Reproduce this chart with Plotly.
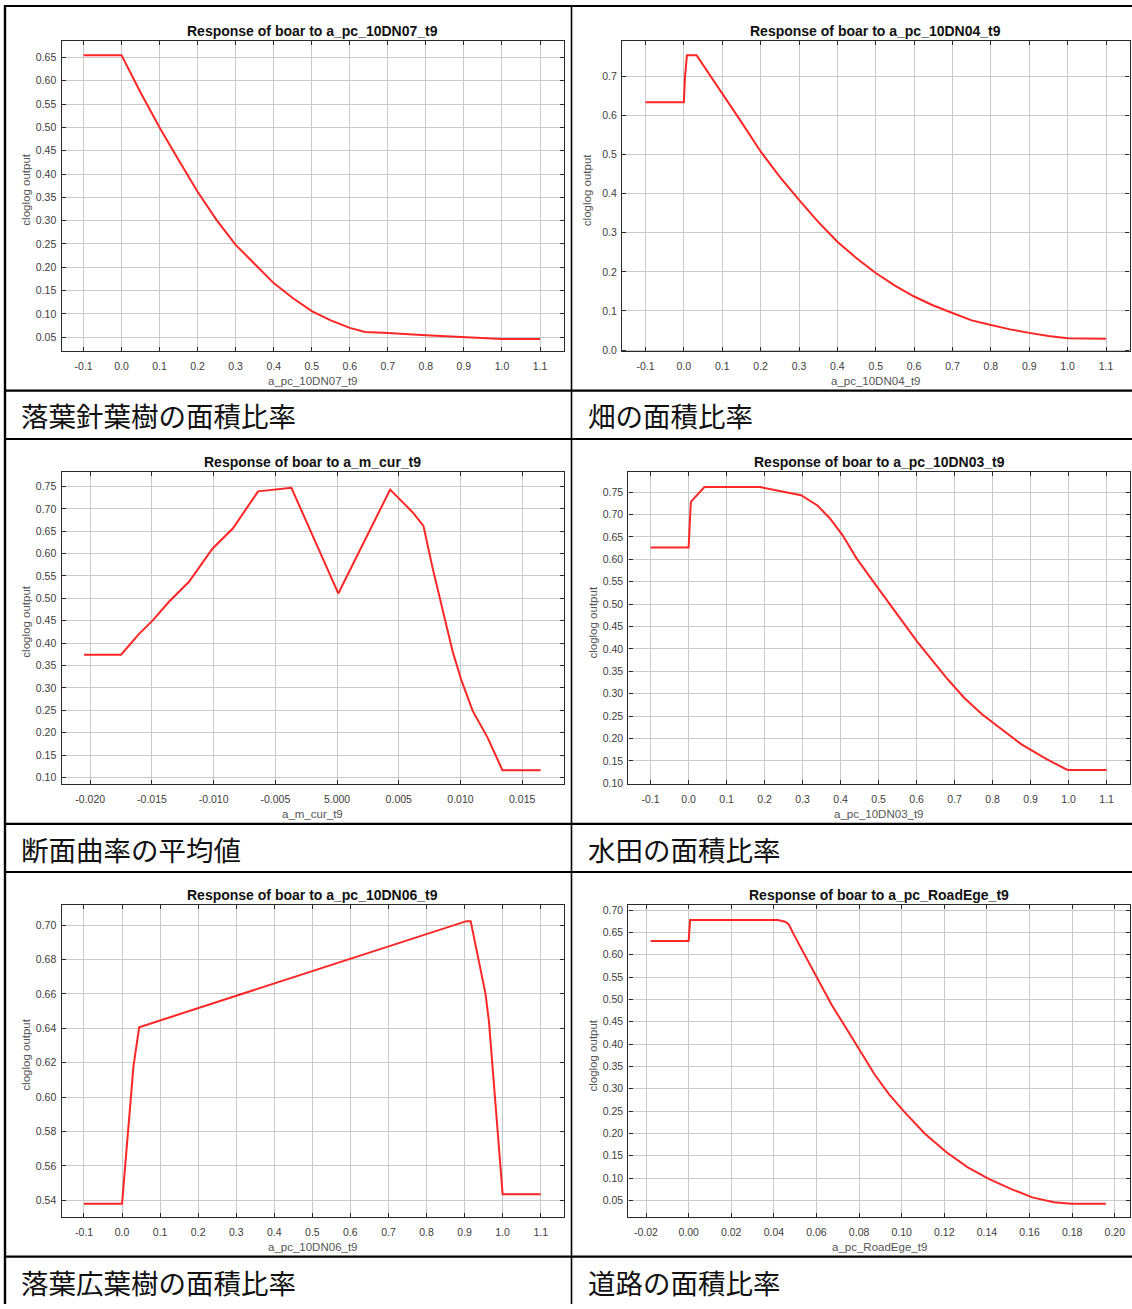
import plotly.graph_objects as go

W, H = 1132, 1309

# ---- response curves (x = predictor value, y = cloglog output) ----
x_10DN07 = [-0.1, 0.0, 0.05, 0.1, 0.15, 0.2, 0.25, 0.3, 0.35, 0.4, 0.45, 0.5,
            0.55, 0.6, 0.64, 0.7, 0.8, 0.9, 1.0, 1.1]
y_10DN07 = [0.655, 0.655, 0.575, 0.500, 0.430, 0.362, 0.301, 0.248, 0.207, 0.166,
            0.134, 0.106, 0.086, 0.070, 0.061, 0.059, 0.054, 0.050, 0.046, 0.046]

x_10DN04 = [-0.1, 0.0, 0.003, 0.008, 0.033, 0.1, 0.15, 0.2, 0.25, 0.3, 0.35, 0.4,
            0.45, 0.5, 0.55, 0.6, 0.65, 0.7, 0.75, 0.8, 0.85, 0.9, 0.95, 1.0, 1.1]
y_10DN04 = [0.634, 0.634, 0.700, 0.754, 0.754, 0.657, 0.583, 0.508, 0.443, 0.384,
            0.328, 0.277, 0.235, 0.197, 0.165, 0.137, 0.114, 0.095, 0.076, 0.064,
            0.053, 0.044, 0.036, 0.030, 0.029]

x_m_cur = [-0.0205, -0.0175, -0.0161, -0.0149, -0.0136, -0.0120, -0.0101, -0.00845,
           -0.0064, -0.0037, 0.0001, 0.0043, 0.0061, 0.0070, 0.00775, 0.00834,
           0.00937, 0.0101, 0.0110, 0.0122, 0.0128, 0.0134, 0.0165]
y_m_cur = [0.374, 0.374, 0.419, 0.452, 0.493, 0.537, 0.611, 0.656, 0.739, 0.747,
           0.511, 0.743, 0.693, 0.662, 0.567, 0.500, 0.381, 0.315, 0.248, 0.189,
           0.152, 0.116, 0.116]

x_10DN03 = [-0.1, 0.0, 0.006, 0.013, 0.0415, 0.188, 0.216, 0.244, 0.296, 0.339,
            0.372, 0.405, 0.442, 0.499, 0.556, 0.601, 0.678, 0.725, 0.772, 0.829,
            0.876, 0.942, 0.997, 1.1]
y_10DN03 = [0.626, 0.626, 0.728, 0.735, 0.761, 0.761, 0.756, 0.751, 0.743, 0.720,
            0.691, 0.654, 0.602, 0.535, 0.469, 0.417, 0.336, 0.291, 0.254, 0.217,
            0.187, 0.154, 0.130, 0.130]

x_10DN06 = [-0.1, 0.0, 0.03, 0.045, 0.905, 0.916, 0.955, 0.964, 1.0, 1.1]
y_10DN06 = [0.538, 0.538, 0.618, 0.6406, 0.7023, 0.7023, 0.660, 0.644, 0.5435, 0.5435]

x_RoadEge = [-0.0178, 0.0, 0.0007, 0.0419, 0.0453, 0.047, 0.0495, 0.0537, 0.0604,
             0.0671, 0.0739, 0.0806, 0.0873, 0.094, 0.1008, 0.1109, 0.121, 0.131,
             0.1411, 0.1512, 0.1613, 0.1714, 0.1795, 0.1958]
y_RoadEge = [0.631, 0.631, 0.678, 0.678, 0.674, 0.668, 0.644, 0.607, 0.548, 0.488,
             0.436, 0.384, 0.332, 0.288, 0.2505, 0.1995, 0.158, 0.124, 0.098, 0.076,
             0.057, 0.046, 0.0425, 0.0425]

# ---- tick values / labels ----
frac_ticks = [-0.1, 0.0, 0.1, 0.2, 0.3, 0.4, 0.5, 0.6, 0.7, 0.8, 0.9, 1.0, 1.1]
frac_labels = ["-0.1", "0.0", "0.1", "0.2", "0.3", "0.4", "0.5", "0.6", "0.7",
               "0.8", "0.9", "1.0", "1.1"]
cur_ticks = [-0.020, -0.015, -0.010, -0.005, 0.0, 0.005, 0.010, 0.015]
cur_labels = ["-0.020", "-0.015", "-0.010", "-0.005", "5.000", "0.005", "0.010", "0.015"]
road_ticks = [-0.02, 0.0, 0.02, 0.04, 0.06, 0.08, 0.10, 0.12, 0.14, 0.16, 0.18, 0.20]
road_labels = ["-0.02", "0.00", "0.02", "0.04", "0.06", "0.08", "0.10", "0.12",
               "0.14", "0.16", "0.18", "0.20"]

y05_ticks = [0.05, 0.10, 0.15, 0.20, 0.25, 0.30, 0.35, 0.40, 0.45, 0.50, 0.55, 0.60, 0.65]
y05_labels = ["0.05", "0.10", "0.15", "0.20", "0.25", "0.30", "0.35", "0.40", "0.45",
              "0.50", "0.55", "0.60", "0.65"]
y1_ticks = [0.0, 0.1, 0.2, 0.3, 0.4, 0.5, 0.6, 0.7]
y1_labels = ["0.0", "0.1", "0.2", "0.3", "0.4", "0.5", "0.6", "0.7"]
y10_ticks = [0.10, 0.15, 0.20, 0.25, 0.30, 0.35, 0.40, 0.45, 0.50, 0.55, 0.60, 0.65,
             0.70, 0.75]
y10_labels = ["0.10", "0.15", "0.20", "0.25", "0.30", "0.35", "0.40", "0.45", "0.50",
              "0.55", "0.60", "0.65", "0.70", "0.75"]
y02_ticks = [0.54, 0.56, 0.58, 0.60, 0.62, 0.64, 0.66, 0.68, 0.70]
y02_labels = ["0.54", "0.56", "0.58", "0.60", "0.62", "0.64", "0.66", "0.68", "0.70"]
y05r_ticks = y05_ticks + [0.70]
y05r_labels = y05_labels + ["0.70"]

variables = ["a_pc_10DN07_t9", "a_pc_10DN04_t9", "a_m_cur_t9",
             "a_pc_10DN03_t9", "a_pc_10DN06_t9", "a_pc_RoadEge_t9"]
captions = ["落葉針葉樹の面積比率", "畑の面積比率", "断面曲率の平均値",
            "水田の面積比率", "落葉広葉樹の面積比率", "道路の面積比率"]


def fx(p):
    return p / W


def fy(p):
    return 1 - p / H


# plot boxes in pixels (left, top, right, bottom) and axis ranges
panels = [
    dict(x=x_10DN07, y=y_10DN07, box=(61.5, 40, 564, 352),
         xr=[-0.1578, 1.1631], yr=[0.0195, 0.6857],
         xt=frac_ticks, xl=frac_labels, yt=y05_ticks, yl=y05_labels, cap_x=19),
    dict(x=x_10DN04, y=y_10DN04, box=(622, 40, 1129.5, 352),
         xr=[-0.1612, 1.1612], yr=[-0.0033, 0.7909],
         xt=frac_ticks, xl=frac_labels, yt=y1_ticks, yl=y1_labels, cap_x=586),
    dict(x=x_m_cur, y=y_m_cur, box=(61.5, 473.3, 564, 786.7),
         xr=[-0.02233, 0.01839], yr=[0.0851, 0.782],
         xt=cur_ticks, xl=cur_labels, yt=y10_ticks, yl=y10_labels, cap_x=19),
    dict(x=x_10DN03, y=y_10DN03, box=(628.4, 473.3, 1129.8, 786.7),
         xr=[-0.1584, 1.161], yr=[0.0984, 0.7944],
         xt=frac_ticks, xl=frac_labels, yt=y10_ticks, yl=y10_labels, cap_x=586),
    dict(x=x_10DN06, y=y_10DN06, box=(61.5, 908.3, 564, 1221.7),
         xr=[-0.1591, 1.1612], yr=[0.5302, 0.7116],
         xt=frac_ticks, xl=frac_labels, yt=y02_ticks, yl=y02_labels, cap_x=19),
    dict(x=x_RoadEge, y=y_RoadEge, box=(628.4, 908.3, 1129.8, 1221.7),
         xr=[-0.02826, 0.20704], yr=[0.0128, 0.7111],
         xt=road_ticks, xl=road_labels, yt=y05r_ticks, yl=y05r_labels, cap_x=586),
]
caption_y = [416, 416, 851.5, 851.5, 1287, 1287]

TICK_FONT = dict(family="Liberation Sans, Arial, sans-serif", size=10.5, color="#3c3c3c")
fig = go.Figure()
layout = dict(width=W, height=H, autosize=False,
              margin=dict(l=0, r=0, t=0, b=0),
              paper_bgcolor="white", plot_bgcolor="white", showlegend=False)
annotations = []

for i, p in enumerate(panels):
    n = "" if i == 0 else str(i + 1)
    l, t, r, b = p["box"]
    fig.add_trace(go.Scatter(x=p["x"], y=p["y"], mode="lines",
                             line=dict(color="#ff2626", width=2),
                             xaxis="x" + n, yaxis="y" + n, hoverinfo="skip"))
    common = dict(showline=True, linecolor="#2a2a2a", linewidth=1.3, mirror="ticks",
                  ticks="inside", ticklen=4, tickcolor="#2a2a2a", tickwidth=1.2,
                  showgrid=True, gridcolor="#c9c9c9", gridwidth=1,
                  zeroline=False, tickfont=TICK_FONT, tickmode="array")
    layout["xaxis" + n] = dict(common, domain=[fx(l), fx(r)], range=p["xr"],
                               tickvals=p["xt"], ticktext=p["xl"], anchor="y" + n,
                               ticklabelstandoff=5)
    layout["yaxis" + n] = dict(common, domain=[fy(b), fy(t)], range=p["yr"],
                               tickvals=p["yt"], ticktext=p["yl"], anchor="x" + n,
                               ticklabelstandoff=2)
    cx = (l + r) / 2
    # chart title
    annotations.append(dict(text="<b>Response of boar to %s</b>" % variables[i],
                            x=fx(cx), y=fy(t - 10), xref="paper", yref="paper",
                            showarrow=False, xanchor="center", yanchor="middle",
                            font=dict(family="Liberation Sans, Arial, sans-serif",
                                      size=14, color="#111111")))
    # x axis title
    annotations.append(dict(text=variables[i], x=fx(cx), y=fy(b + 30),
                            xref="paper", yref="paper", showarrow=False,
                            xanchor="center", yanchor="middle",
                            font=dict(family="Liberation Sans, Arial, sans-serif",
                                      size=11.5, color="#555555")))
    # y axis title
    annotations.append(dict(text="cloglog output", x=fx(l - 35), y=fy((t + b) / 2 - 6),
                            xref="paper", yref="paper", showarrow=False,
                            textangle=-90, xanchor="center", yanchor="middle",
                            font=dict(family="Liberation Sans, Arial, sans-serif",
                                      size=11.5, color="#555555")))
    # caption cell text
    annotations.append(dict(text=captions[i], x=fx(p["cap_x"]), y=fy(caption_y[i]),
                            xref="paper", yref="paper", showarrow=False,
                            xanchor="left", yanchor="middle",
                            font=dict(family="Noto Sans CJK JP", size=27.5, color="#111111")))

# table rules
shapes = []
def hline(yp, w=2.2):
    shapes.append(dict(type="line", xref="paper", yref="paper", x0=fx(4), x1=1,
                       y0=fy(yp), y1=fy(yp), line=dict(color="black", width=w)))

def vline(xp, w=2):
    shapes.append(dict(type="line", xref="paper", yref="paper", x0=fx(xp), x1=fx(xp),
                       y0=fy(4), y1=0, line=dict(color="black", width=w)))

for yp in [5, 391.5, 440, 826.7, 875, 1261.5]:
    hline(yp)
vline(5, 2.4)
vline(571.5, 1.6)

layout["annotations"] = annotations
layout["shapes"] = shapes
fig.update_layout(**layout)
fig.write_html("out.html")
